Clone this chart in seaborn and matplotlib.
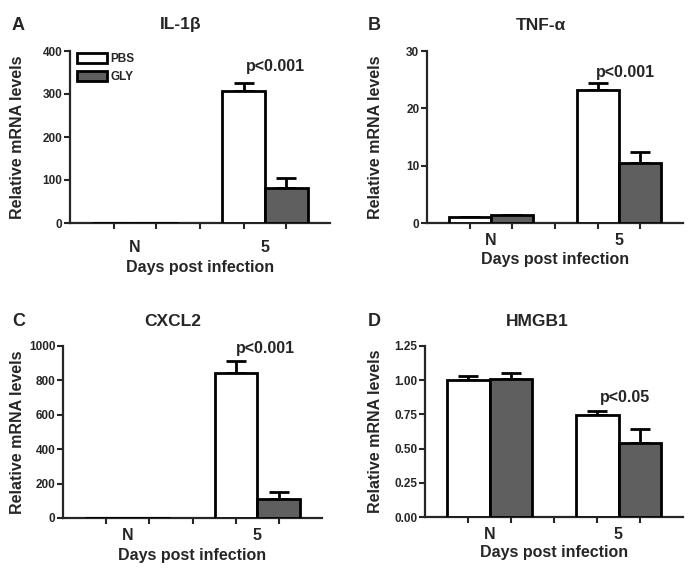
import numpy as np
import pandas as pd
import matplotlib
matplotlib.use("Agg")
import matplotlib.pyplot as plt
import seaborn as sns

# data
days = ["N", "5"]
groups = ["PBS", "GLY"]

il1b_pbs = [1.0, 308]
il1b_gly = [1.0, 82]
il1b_pbs_err = [0, 17]
il1b_gly_err = [0, 22]

tnf_pbs = [1.0, 23.2]
tnf_gly = [1.4, 10.5]
tnf_pbs_err = [0, 1.2]
tnf_gly_err = [0, 1.9]

cxcl2_pbs = [1.0, 841]
cxcl2_gly = [1.0, 110]
cxcl2_pbs_err = [0, 72]
cxcl2_gly_err = [0, 39]

hmgb1_pbs = [1.00, 0.748]
hmgb1_gly = [1.01, 0.541]
hmgb1_pbs_err = [0.03, 0.03]
hmgb1_gly_err = [0.045, 0.10]

titles = ["IL-1\u03b2", "TNF-\u03b1", "CXCL2", "HMGB1"]
letters = ["A", "B", "C", "D"]
pvals = ["p<0.001", "p<0.001", "p<0.001", "p<0.05"]
pval_xy = [(1.08, 365), (1.05, 26.3), (1.06, 983), (1.05, 0.874)]
yticks = [[0, 100, 200, 300, 400], [0, 10, 20, 30],
          [0, 200, 400, 600, 800, 1000], [0, 0.25, 0.5, 0.75, 1.0, 1.25]]

panels = [
    (il1b_pbs, il1b_gly, il1b_pbs_err, il1b_gly_err),
    (tnf_pbs, tnf_gly, tnf_pbs_err, tnf_gly_err),
    (cxcl2_pbs, cxcl2_gly, cxcl2_pbs_err, cxcl2_gly_err),
    (hmgb1_pbs, hmgb1_gly, hmgb1_pbs_err, hmgb1_gly_err),
]

sns.set_style("ticks")
plt.rcParams["font.family"] = ["Liberation Sans", "DejaVu Sans"]
plt.rcParams["font.weight"] = "bold"
plt.rcParams["axes.labelweight"] = "bold"

W, H = 697, 571
fig = plt.figure(figsize=(W / 100, H / 100), dpi=100)

# axes boxes in pixels: left, top, right, bottom
boxes = [(70, 51, 330, 223), (427, 51, 683, 223),
         (63, 346, 322, 518), (425, 346, 683, 517)]
letter_pos = [(18, 25), (374, 25), (19, 322), (374, 322)]
title_pos = [(181, 25), (541, 25), (173, 322), (537, 322)]
xtick_pad = [12, 7, 7, 7]
xlabel_y = [-0.215, -0.17, -0.172, -0.165]
ylabel_x = [-0.173, -0.172, -0.147, -0.163]

palette = {"PBS": "white", "GLY": "#5f5f5f"}
lw = 2.0

for i, (pbs, gly, pbs_err, gly_err) in enumerate(panels):
    l, t, r, b = boxes[i]
    ax = fig.add_axes([l / W, 1 - b / H, (r - l) / W, (b - t) / H])
    df = pd.DataFrame({
        "day": days * 2,
        "group": ["PBS"] * 2 + ["GLY"] * 2,
        "value": pbs + gly,
    })
    sns.barplot(data=df, x="day", y="value", hue="group", order=days,
                hue_order=groups, palette=palette, width=0.66,
                edgecolor="black", linewidth=lw, errorbar=None,
                legend=(i == 0), ax=ax, zorder=3)

    centers = []
    for cont, errs in zip(ax.containers, [pbs_err, gly_err]):
        xs = [p.get_x() + p.get_width() / 2 for p in cont.patches]
        ys = [p.get_height() for p in cont.patches]
        centers += xs
        ax.errorbar(xs, ys, yerr=[np.zeros(len(errs)), errs], fmt="none",
                    ecolor="black", elinewidth=lw, capsize=7, capthick=lw,
                    zorder=2)

    ax.set_xlim(-0.5, 1.5)
    ax.set_ylim(yticks[i][0], yticks[i][-1])
    ax.set_yticks(yticks[i])
    if i == 3:
        ax.set_yticklabels([f"{v:.2f}" for v in yticks[i]])
    ax.set_xticks([0, 1])
    ax.set_xticks(sorted(centers + [0.5]), minor=True)
    ax.tick_params(axis="x", which="major", length=0, pad=xtick_pad[i],
                   labelsize=11.5)
    ax.tick_params(axis="x", which="minor", length=4, width=1.5,
                   direction="out")
    ax.tick_params(axis="y", length=4, width=1.5, labelsize=8.5, pad=1.5)
    for lab in ax.get_xticklabels() + ax.get_yticklabels():
        lab.set_fontweight("bold")

    sns.despine(ax=ax)
    for s in ["left", "bottom"]:
        ax.spines[s].set_linewidth(1.6)

    ax.set_xlabel("Days post infection", fontsize=11.5, fontweight="bold")
    ax.set_ylabel("Relative mRNA levels", fontsize=11.5, fontweight="bold")
    ax.xaxis.set_label_coords(0.5, xlabel_y[i])
    ax.yaxis.set_label_coords(ylabel_x[i], 0.5)

    px, py = pval_xy[i]
    ax.text(px, py, pvals[i], ha="center", va="center", fontsize=11.5,
            fontweight="bold")

    fig.text(letter_pos[i][0] / W, 1 - letter_pos[i][1] / H, letters[i],
             ha="center", va="center", fontsize=13, fontweight="bold")
    fig.text(title_pos[i][0] / W, 1 - title_pos[i][1] / H, titles[i],
             ha="center", va="center", fontsize=12.5, fontweight="bold")

    if i == 0:
        h, lb = ax.get_legend_handles_labels()
        ax.legend(h, lb, loc="upper left", bbox_to_anchor=(0.027, 0.99),
                  frameon=False, handlelength=2.5,
                  handleheight=0.9, handletextpad=0.35, labelspacing=0.55,
                  borderpad=0, borderaxespad=0, prop={"weight": "bold", "size": 8.5})

fig.savefig("out.png", dpi=100)
